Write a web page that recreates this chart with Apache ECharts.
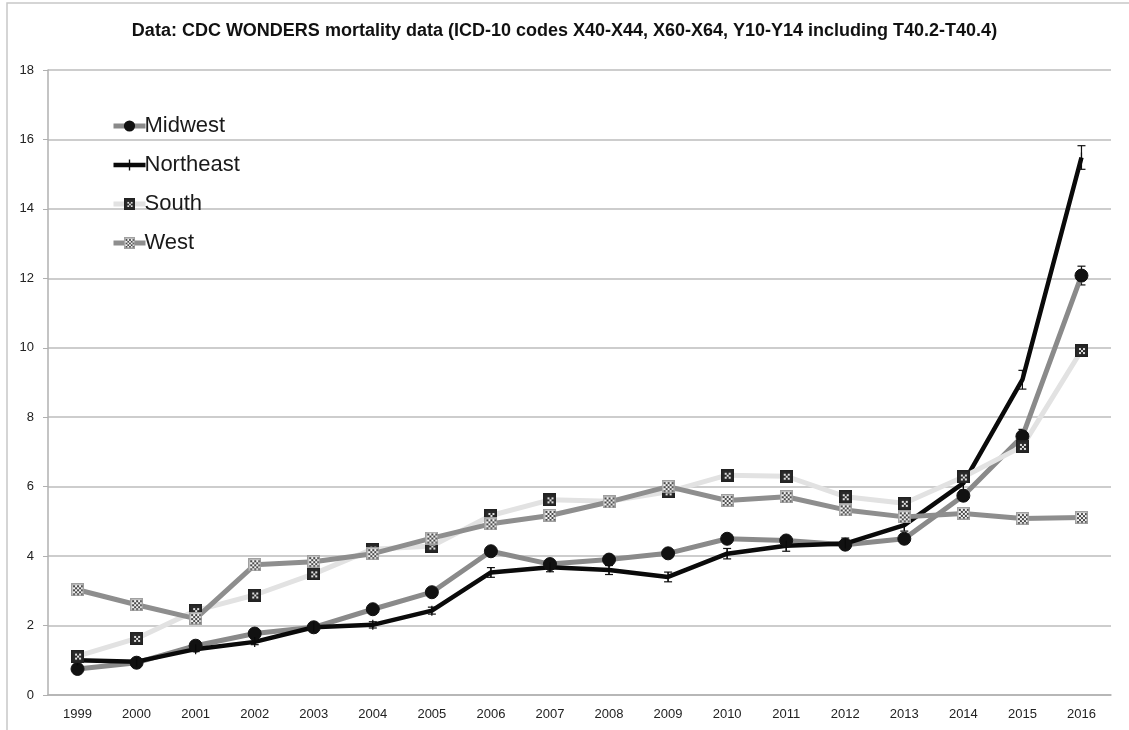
<!DOCTYPE html>
<html>
<head>
<meta charset="utf-8">
<script src="https://cdn.jsdelivr.net/npm/echarts@6/dist/echarts.min.js"></script>
<style>
  html, body { margin: 0; padding: 0; background: #fff; }
  #main { width: 1129px; height: 730px; }
</style>
</head>
<body>
<div id="main"></div>
<script>
// data (deaths per 100,000)
var years = ['1999', '2000', '2001', '2002', '2003', '2004', '2005', '2006', '2007', '2008', '2009', '2010', '2011', '2012', '2013', '2014', '2015', '2016'];
var midwest = [0.75, 0.93, 1.42, 1.77, 1.95, 2.47, 2.96, 4.14, 3.77, 3.9, 4.08, 4.5, 4.45, 4.33, 4.5, 5.74, 7.45, 12.08];
var northeast = [1.0, 0.96, 1.32, 1.53, 1.95, 2.02, 2.43, 3.53, 3.68, 3.6, 3.4, 4.07, 4.3, 4.36, 4.89, 6.1, 9.08, 15.48];
var south = [1.12, 1.63, 2.43, 2.88, 3.49, 4.2, 4.29, 5.17, 5.62, 5.58, 5.85, 6.33, 6.3, 5.71, 5.52, 6.28, 7.16, 9.92];
var west = [3.03, 2.6, 2.2, 3.75, 3.84, 4.07, 4.52, 4.93, 5.17, 5.56, 6.0, 5.6, 5.71, 5.33, 5.13, 5.23, 5.08, 5.11];
// error bar half widths
var midwestErr = [0.05, 0.05, 0.06, 0.07, 0.07, 0.08, 0.08, 0.1, 0.1, 0.1, 0.1, 0.12, 0.12, 0.12, 0.12, 0.14, 0.2, 0.27];
var northeastErr = [0.06, 0.06, 0.07, 0.08, 0.08, 0.09, 0.1, 0.14, 0.13, 0.13, 0.14, 0.15, 0.16, 0.16, 0.17, 0.2, 0.27, 0.34];
var yTicks = [0, 2, 4, 6, 8, 10, 12, 14, 16, 18];

// square markers with a dotted fill, drawn once on a canvas
function makeMarker(bg, fg, border, cells) {
  var s = 13;
  var c = document.createElement('canvas');
  c.width = s; c.height = s;
  var ctx = c.getContext('2d');
  ctx.fillStyle = bg;
  ctx.fillRect(0, 0, s, s);
  ctx.fillStyle = fg;
  for (var y = 2; y < s - 2; y += 2) {
    for (var x = 2; x < s - 2; x += 2) {
      if (cells(x, y)) ctx.fillRect(x, y, 2, 2);
    }
  }
  ctx.strokeStyle = border;
  ctx.lineWidth = 1.5;
  ctx.strokeRect(0.75, 0.75, s - 1.5, s - 1.5);
  return 'image://' + c.toDataURL();
}
var westMarker = makeMarker('#f4f4f4', '#4a4a4a', '#a0a0a0', function (x, y) { return ((x + y) / 2) % 2 === 0; });
var southMarker = makeMarker('#2a2a2a', '#e0e0e0', '#222', function (x, y) { return (x === 4 || x === 8) && (y === 4 || y === 8) || (x === 6 && y === 6); });
// thin vertical tick, padded to a square box so the legend does not stretch it
var tickMarker = 'path://M0,5 L0.01,5 L0,5.01 Z M4.4,0 L5.6,0 L5.6,10 L4.4,10 Z M9.99,5 L10,5 L10,5.01 Z';

function errorData(vals, errs) {
  return vals.map(function (v, i) { return [i, v - errs[i], v + errs[i]]; });
}

function renderErr(params, api) {
  var x = api.value(0);
  var lo = api.coord([x, api.value(1)]);
  var hi = api.coord([x, api.value(2)]);
  var w = 4;
  var st = { stroke: '#111', lineWidth: 1.2 };
  return {
    type: 'group',
    children: [
      { type: 'line', shape: { x1: lo[0], y1: lo[1], x2: hi[0], y2: hi[1] }, style: st },
      { type: 'line', shape: { x1: lo[0] - w, y1: lo[1], x2: lo[0] + w, y2: lo[1] }, style: st },
      { type: 'line', shape: { x1: hi[0] - w, y1: hi[1], x2: hi[0] + w, y2: hi[1] }, style: st }
    ]
  };
}

var myChart = echarts.init(document.getElementById('main'));

var option = {
  backgroundColor: '#fff',
  animation: false,
  textStyle: { fontFamily: 'Liberation Sans' },
  title: {
    text: 'Data: CDC WONDERS mortality data (ICD-10 codes X40-X44, X60-X64, Y10-Y14 including T40.2-T40.4)',
    left: 'center',
    top: 17,
    textStyle: { fontSize: 18, fontWeight: 'bold', color: '#111', fontFamily: 'Liberation Sans' }
  },
  graphic: [{
    type: 'rect',
    shape: { x: 7, y: 3, width: 1140, height: 740 },
    style: { fill: 'none', stroke: '#c8c8c8', lineWidth: 1.5 },
    silent: true
  }],
  legend: {
    orient: 'vertical',
    left: 106,
    top: 110,
    itemWidth: 32,
    itemHeight: 14,
    itemGap: 17,
    data: ['Midwest', 'Northeast', 'South', 'West'],
    lineStyle: { width: 'inherit' },
    textStyle: { fontSize: 22, color: '#1a1a1a', padding: [0, 0, 0, -6] }
  },
  grid: { left: 48, right: 18, top: 70, bottom: 35, containLabel: false },
  xAxis: {
    type: 'category',
    data: years,
    axisLine: { lineStyle: { color: '#b0b0b0', width: 1.5 } },
    axisTick: { length: 5, lineStyle: { color: '#b0b0b0' } },
    axisLabel: { color: '#222', fontSize: 13, margin: 13 }
  },
  yAxis: {
    type: 'value',
    min: yTicks[0],
    max: yTicks[yTicks.length - 1],
    interval: 2,
    axisLine: { show: true, lineStyle: { color: '#b0b0b0', width: 1.5 } },
    axisTick: { show: true, length: 5, lineStyle: { color: '#b0b0b0' } },
    axisLabel: { color: '#222', fontSize: 13, margin: 14 },
    splitLine: { lineStyle: { color: '#bdbdbd', width: 1.5 } }
  },
  series: [
    {
      name: 'Midwest', type: 'line', data: midwest,
      symbol: 'circle', symbolSize: 13,
      lineStyle: { color: '#8a8a8a', width: 5 },
      itemStyle: { color: '#111', borderColor: '#111' }
    },
    {
      name: 'Northeast', type: 'line', data: northeast,
      symbol: tickMarker, symbolSize: 10,
      lineStyle: { color: '#0a0a0a', width: 4.5 },
      itemStyle: { color: '#0a0a0a' }
    },
    {
      name: 'South', type: 'line', data: south,
      symbol: southMarker, symbolSize: 13,
      lineStyle: { color: '#e2e2e2', width: 5 },
      itemStyle: { color: '#2a2a2a' }
    },
    {
      name: 'West', type: 'line', data: west,
      symbol: westMarker, symbolSize: 13,
      lineStyle: { color: '#8e8e8e', width: 5 },
      itemStyle: { color: '#8e8e8e' }
    },
    {
      name: 'Midwest error', type: 'custom', renderItem: renderErr,
      data: errorData(midwest, midwestErr), z: 3, silent: true
    },
    {
      name: 'Northeast error', type: 'custom', renderItem: renderErr,
      data: errorData(northeast, northeastErr), z: 3, silent: true
    }
  ]
};

myChart.setOption(option);
</script>
</body>
</html>
